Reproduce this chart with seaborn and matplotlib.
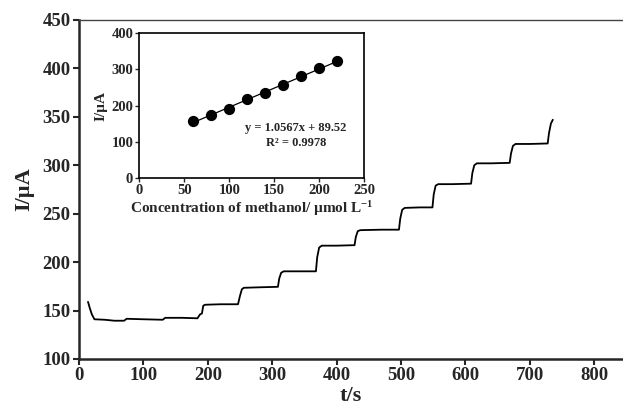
import numpy as np
import pandas as pd
import seaborn as sns
import matplotlib.pyplot as plt

# amperometric response (main plot)
time_s = [14, 17, 20, 24, 40, 55, 70, 74, 100, 130, 134, 160, 184, 188, 191, 193, 196,
          220, 247, 250, 253, 256, 280, 309, 311, 314, 318, 340, 368, 370, 373, 377,
          400, 428, 430, 433, 437, 470, 497, 499, 502, 506, 530, 549, 551, 554, 558,
          580, 609, 611, 614, 618, 640, 669, 671, 674, 678, 700, 728, 730, 733, 736]
current_ua = [159, 152, 146, 141, 140.5, 139.5, 139.5, 141.5, 141, 140.5, 142.5, 142.5, 142, 146, 147, 155, 156,
              156.5, 156.5, 165, 172, 173.5, 174, 174.5, 183, 189, 190.5, 190.5, 190.5, 205, 215, 217,
              217, 217.5, 226, 232, 233, 233.5, 233.5, 245, 254, 256, 256.5, 256.5, 270, 279, 280.5,
              280.5, 281, 292, 300, 302, 302, 302.5, 312, 320, 322, 322, 322.5, 333, 343, 347]

# calibration (inset)
conc = [60, 80, 100, 120, 140, 160, 180, 200, 220]
cal_current = [157, 174.5, 191, 218, 234.5, 256.5, 280.5, 302.5, 322.5]

main_xticks = [0, 100, 200, 300, 400, 500, 600, 700, 800]
main_yticks = [100, 150, 200, 250, 300, 350, 400, 450]
inset_xticks = [0, 50, 100, 150, 200, 250]
inset_yticks = [0, 100, 200, 300, 400]

sns.set_style("ticks")
plt.rcParams['font.family'] = ['Liberation Serif', 'DejaVu Serif']
plt.rcParams['font.weight'] = 'bold'
plt.rcParams['mathtext.fontset'] = 'custom'
plt.rcParams['mathtext.rm'] = 'Liberation Serif:bold'
plt.rcParams['mathtext.default'] = 'rm'

df = pd.DataFrame({'t': time_s, 'I': current_ua})
cal = pd.DataFrame({'c': conc, 'I': cal_current})

fig = plt.figure(figsize=(6.23, 4.13), dpi=100)
ax = fig.add_axes([0.1268, 0.1308, 0.8732, 0.8208])

sns.lineplot(data=df, x='t', y='I', color='black', linewidth=1.3, ax=ax)
ax.set_xlim(0, 845)
ax.set_ylim(100, 450)
ax.set_xticks(main_xticks)
ax.set_yticks(main_yticks)
ax.tick_params(labelsize=13.5, width=1.5, length=4, direction='out', pad=2)
for lab in ax.get_xticklabels() + ax.get_yticklabels():
    lab.set_fontweight('bold')
ax.set_xlabel('t/s', fontsize=16, fontweight='bold', labelpad=1)
ax.set_ylabel('I/µA', fontsize=16, fontweight='bold', labelpad=6)
for side in ['left', 'bottom']:
    ax.spines[side].set_linewidth(1.8)
ax.spines['top'].set_linewidth(1.0)
ax.spines['top'].set_color('#444444')
ax.spines['right'].set_visible(False)

# inset
ins = fig.add_axes([0.2239, 0.569, 0.3604, 0.3511])
sns.regplot(data=cal, x='c', y='I', ci=None, ax=ins,
            scatter_kws={'color': 'black', 's': 50, 'alpha': 1, 'zorder': 3},
            line_kws={'color': 'black', 'linewidth': 0.9})
ins.set_xlim(0, 250)
ins.set_ylim(0, 400)
ins.set_xticks(inset_xticks)
ins.set_yticks(inset_yticks)
ins.tick_params(labelsize=10.5, width=1.0, length=3, direction='out', pad=1.5)
for lab in ins.get_xticklabels() + ins.get_yticklabels():
    lab.set_fontweight('bold')
ins.set_xlabel('Concentration of methanol/ µmol L$^{-1}$', fontsize=11, fontweight='bold', labelpad=1)
ins.set_ylabel('I/µA', fontsize=11, fontweight='bold', labelpad=3)
for sp in ins.spines.values():
    sp.set_linewidth(1.2)
    sp.set_color('black')
ins.text(174, 139, 'y = 1.0567x + 89.52', ha='center', va='center', fontsize=9, fontweight='bold')
ins.text(174, 97, 'R² = 0.9978', ha='center', va='center', fontsize=9, fontweight='bold')

fig.savefig('out.png', dpi=100)
